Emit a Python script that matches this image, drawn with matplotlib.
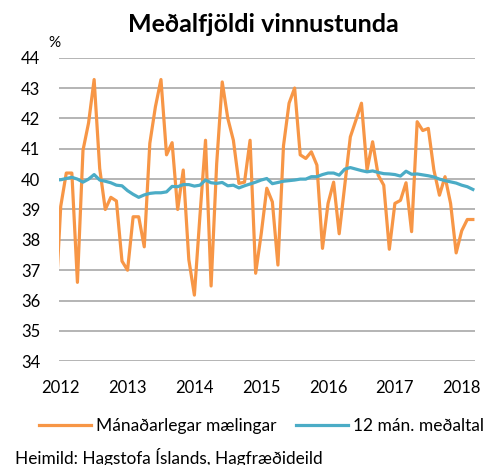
import matplotlib
matplotlib.use("Agg")
import matplotlib.pyplot as plt
import numpy as np
from matplotlib.lines import Line2D

plt.rcParams['font.family'] = ['Lato', 'DejaVu Sans']

# Monthly data, Dec 2011 .. Mar 2018
monthly = [35.6, 39.1, 40.2, 40.2, 36.6, 40.95, 41.85, 43.28, 40.35, 39.0, 39.4, 39.28,
           37.3, 37.0, 38.76, 38.76, 37.77, 41.18, 42.38, 43.28, 40.8, 41.2, 39.0, 40.3,
           37.35, 36.18, 38.8, 41.28, 36.48, 40.5, 43.2, 42.0, 41.28, 39.86, 39.9, 41.28,
           36.9, 38.2, 39.7, 39.25, 37.17, 41.1, 42.5, 43.0, 40.8, 40.68, 40.9, 40.46,
           37.72, 39.2, 39.9, 38.2, 39.8, 41.39, 41.94, 42.5, 40.3, 41.23, 40.13, 39.8,
           37.69, 39.2, 39.3, 39.88, 38.27, 41.89, 41.6, 41.67, 40.3, 39.47, 40.08, 39.2,
           37.57, 38.3, 38.67, 38.67]
avg12 = [39.97, 39.98, 40.02, 40.06, 40.0, 39.9, 40.0, 40.15, 39.97, 39.93, 39.88, 39.8,
         39.78, 39.62, 39.5, 39.4, 39.48, 39.53, 39.55, 39.55, 39.58, 39.76, 39.75, 39.82,
         39.82, 39.77, 39.8, 39.97, 39.88, 39.86, 39.89, 39.78, 39.8, 39.71, 39.78, 39.84,
         39.9, 39.97, 40.02, 39.85, 39.89, 39.93, 39.95, 39.97, 40.0, 40.0, 40.08, 40.08,
         40.15, 40.2, 40.2, 40.13, 40.33, 40.38, 40.33, 40.28, 40.24, 40.27, 40.22, 40.18,
         40.17, 40.15, 40.1, 40.26, 40.16, 40.17, 40.14, 40.11, 40.07, 40.0, 39.95, 39.91,
         39.87, 39.8, 39.75, 39.66]
year_labels = ['2012', '2013', '2014', '2015', '2016', '2017', '2018']
year_positions = [1, 13, 25, 37, 49, 61, 73]
y_ticks = list(range(34, 45))

orange = '#F79646'
blue = '#4BACC6'
grid_col = '#A0A0A0'

fig = plt.figure(figsize=(4.98, 4.65), dpi=100)
ax = fig.add_axes([0.118, 0.223, 0.836, 0.653])

x = np.arange(len(monthly))
ax.plot(x, monthly, color=orange, lw=2.3, zorder=3)
ax.plot(x, avg12, color=blue, lw=2.3, zorder=4)

ax.set_ylim(34, 44)
ax.set_xlim(0.65, 75.4)
ax.set_yticks(y_ticks)
ax.set_yticklabels([str(v) for v in y_ticks])
ax.set_xticks(year_positions)
ax.set_xticklabels(year_labels)
ax.yaxis.grid(True, color=grid_col, lw=1.1)
ax.set_axisbelow(True)
for s in ax.spines.values():
    s.set_visible(False)
ax.tick_params(axis='both', length=0, labelsize=12, colors='#000000')
ax.tick_params(axis='y', pad=13.2)
ax.tick_params(axis='x', pad=13.5)

fig.text(0.528, 0.932, 'Meðalfjöldi vinnustunda', ha='center', va='baseline',
         fontsize=18, fontweight='bold')
fig.text(54 / 498, 1 - 43 / 465, '%', ha='center', va='center', fontsize=11)

handles = [Line2D([], [], color=orange, lw=2.3), Line2D([], [], color=blue, lw=2.3)]
fig.legend(handles, ['Mánaðarlegar mælingar', '12 mán. meðaltal'], ncol=2,
           loc='center', bbox_to_anchor=(0.525, 1 - 426 / 465), frameon=False,
           fontsize=12.5, handlelength=3.0, handletextpad=0.29, columnspacing=1.1,
           borderpad=0, borderaxespad=0)

fig.text(15 / 498, 1 - 457 / 465, 'Heimild: Hagstofa Íslands, Hagfræðideild',
         ha='left', va='center', fontsize=12.4)

fig.savefig('out.png', dpi=100)
